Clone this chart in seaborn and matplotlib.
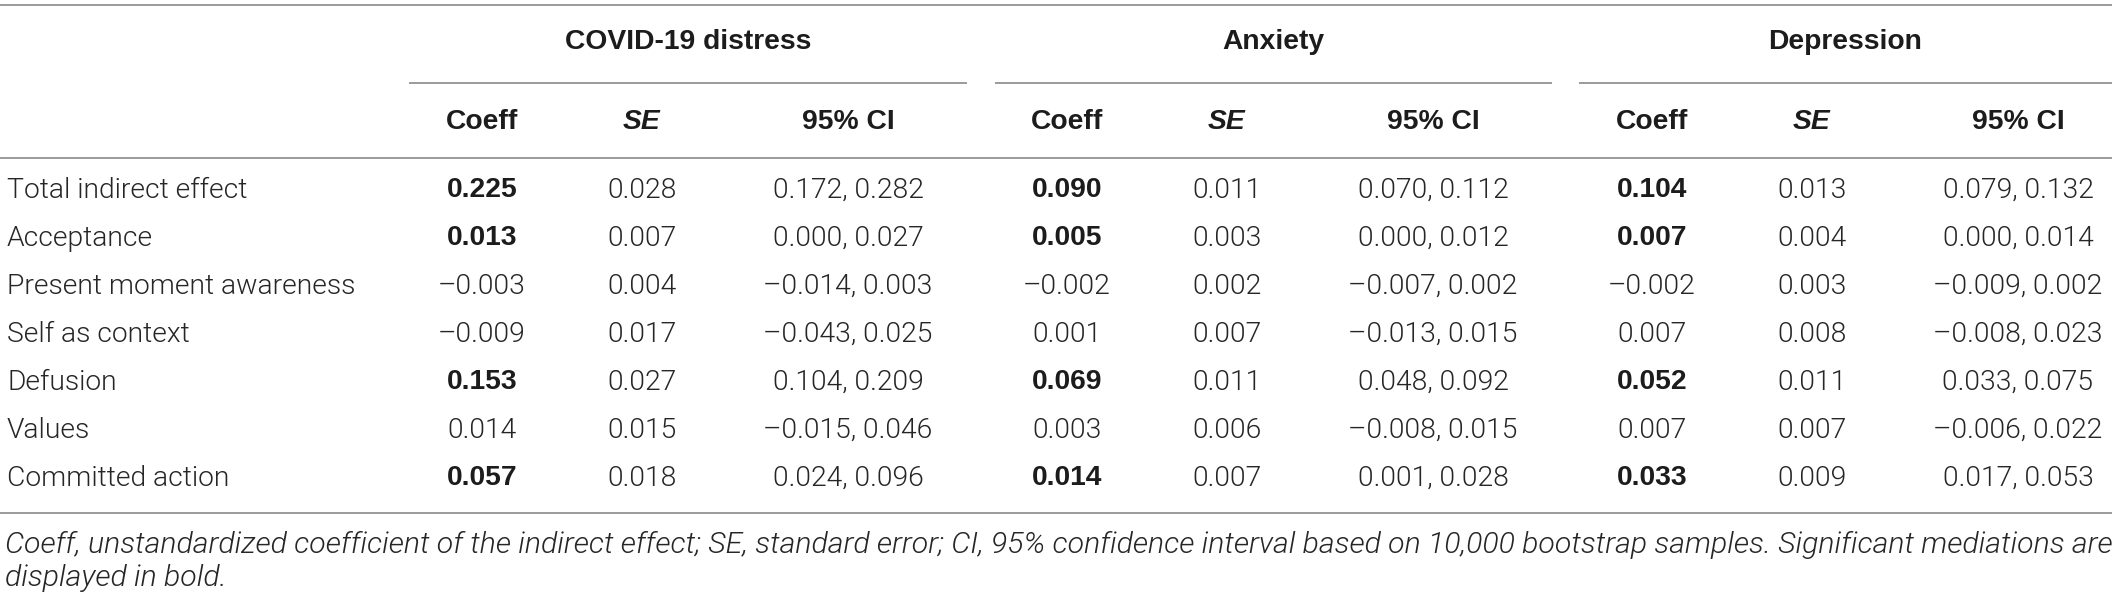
import matplotlib
matplotlib.use("Agg")
import matplotlib.pyplot as plt
from matplotlib import font_manager
import seaborn as sns

# Valores da tabela
linhas = ["Total indirect effect", "Acceptance", "Present moment awareness",
          "Self as context", "Defusion", "Values", "Committed action"]
grupos = ["COVID-19 distress", "Anxiety", "Depression"]
subcolunas = ["Coeff", "SE", "95% CI"]

covid_coeff = [0.225, 0.013, -0.003, -0.009, 0.153, 0.014, 0.057]
covid_se = [0.028, 0.007, 0.004, 0.017, 0.027, 0.015, 0.018]
covid_lo = [0.172, 0.000, -0.014, -0.043, 0.104, -0.015, 0.024]
covid_hi = [0.282, 0.027, 0.003, 0.025, 0.209, 0.046, 0.096]
covid_sig = [1, 1, 0, 0, 1, 0, 1]

anx_coeff = [0.090, 0.005, -0.002, 0.001, 0.069, 0.003, 0.014]
anx_se = [0.011, 0.003, 0.002, 0.007, 0.011, 0.006, 0.007]
anx_lo = [0.070, 0.000, -0.007, -0.013, 0.048, -0.008, 0.001]
anx_hi = [0.112, 0.012, 0.002, 0.015, 0.092, 0.015, 0.028]
anx_sig = [1, 1, 0, 0, 1, 0, 1]

dep_coeff = [0.104, 0.007, -0.002, 0.007, 0.052, 0.007, 0.033]
dep_se = [0.013, 0.004, 0.003, 0.008, 0.011, 0.007, 0.009]
dep_lo = [0.079, 0.000, -0.009, -0.008, 0.033, -0.006, 0.017]
dep_hi = [0.132, 0.014, 0.002, 0.023, 0.075, 0.022, 0.053]
dep_sig = [1, 1, 0, 0, 1, 0, 1]

nota = ["Coeff, unstandardized coefficient of the indirect effect; SE, standard error; "
        "CI, 95% confidence interval based on 10,000 bootstrap samples. Significant mediations are",
        "displayed in bold."]

sns.set_theme(style="white")
plt.rcParams["font.family"] = ["Liberation Sans", "DejaVu Sans"]

# fonte fina para o corpo, se existir
fam_leve, peso_leve = ["Liberation Sans", "DejaVu Sans"], "normal"
for f in font_manager.fontManager.ttflist:
    if f.name == "Roboto" and f.weight == 300 and f.style == "normal":
        fam_leve, peso_leve = ["Roboto", "DejaVu Sans"], 300
        break

W, H = 2118, 599
fig = plt.figure(figsize=(W / 100, H / 100), dpi=100)
ax = fig.add_axes([0, 0, 1, 1])
ax.set_xlim(0, W)
ax.set_ylim(H, 0)
ax.axis("off")

cor_txt = "#262626"
cor_bold = "#1c1c1c"
cor_linha = "#8a8a8a"
fs = 20.3
leve = dict(fontsize=fs, color=cor_txt, family=fam_leve, fontweight=peso_leve)


def fmt(v):
    return f"{v:.3f}".replace("-", "\u2013")


# layout (pixels)
x_label = 7
x_grupo = [482, 1067, 1652]
dx_sub = [0, 160, 366]
linha_grupo = [(409, 967), (995, 1552), (1579, 2112)]
y_linhas = [190 + 48 * i for i in range(len(linhas))]

# regras horizontais
for y in [5, 158, 513]:
    ax.hlines(y, 0, 2112, color=cor_linha, lw=1.2)
for (a, b) in linha_grupo:
    ax.hlines(83, a, b, color=cor_linha, lw=1.2)

# cabeçalhos
for g, (a, b) in zip(grupos, linha_grupo):
    ax.text((a + b) / 2, 42, g, ha="center", va="center", fontsize=fs, fontweight="bold", color=cor_bold)
for xg in x_grupo:
    for s, d in zip(subcolunas, dx_sub):
        ax.text(xg + d, 122, s, ha="center", va="center", fontsize=fs, fontweight="bold",
                style="italic" if s == "SE" else "normal", color=cor_bold)

# corpo
dados = [
    (covid_coeff, covid_se, covid_lo, covid_hi, covid_sig),
    (anx_coeff, anx_se, anx_lo, anx_hi, anx_sig),
    (dep_coeff, dep_se, dep_lo, dep_hi, dep_sig),
]
for i, (nome, y) in enumerate(zip(linhas, y_linhas)):
    ax.text(x_label, y, nome, ha="left", va="center", **leve)
    for xg, (cf, se, lo, hi, sig) in zip(x_grupo, dados):
        if sig[i]:
            ax.text(xg, y, fmt(cf[i]), ha="center", va="center", fontsize=fs,
                    fontweight="bold", color=cor_bold)
        else:
            ax.text(xg, y, fmt(cf[i]), ha="center", va="center", **leve)
        ax.text(xg + dx_sub[1], y, fmt(se[i]), ha="center", va="center", **leve)
        ax.text(xg + dx_sub[2], y, fmt(lo[i]) + ", " + fmt(hi[i]), ha="center", va="center", **leve)

# nota de rodapé: primeira linha justificada até a borda
fig.canvas.draw()
r = fig.canvas.get_renderer()
nota_kw = dict(style="italic", color=cor_txt, family=fam_leve, fontweight=peso_leve)
t1 = ax.text(5, 545, nota[0], ha="left", va="center", fontsize=18, **nota_kw)
larg = t1.get_window_extent(renderer=r).width
fs_nota = 18 * (2112 - 5) / larg
t1.set_fontsize(fs_nota)
ax.text(5, 578, nota[1], ha="left", va="center", fontsize=fs_nota, **nota_kw)

fig.savefig("out.png", dpi=100, facecolor="white")
